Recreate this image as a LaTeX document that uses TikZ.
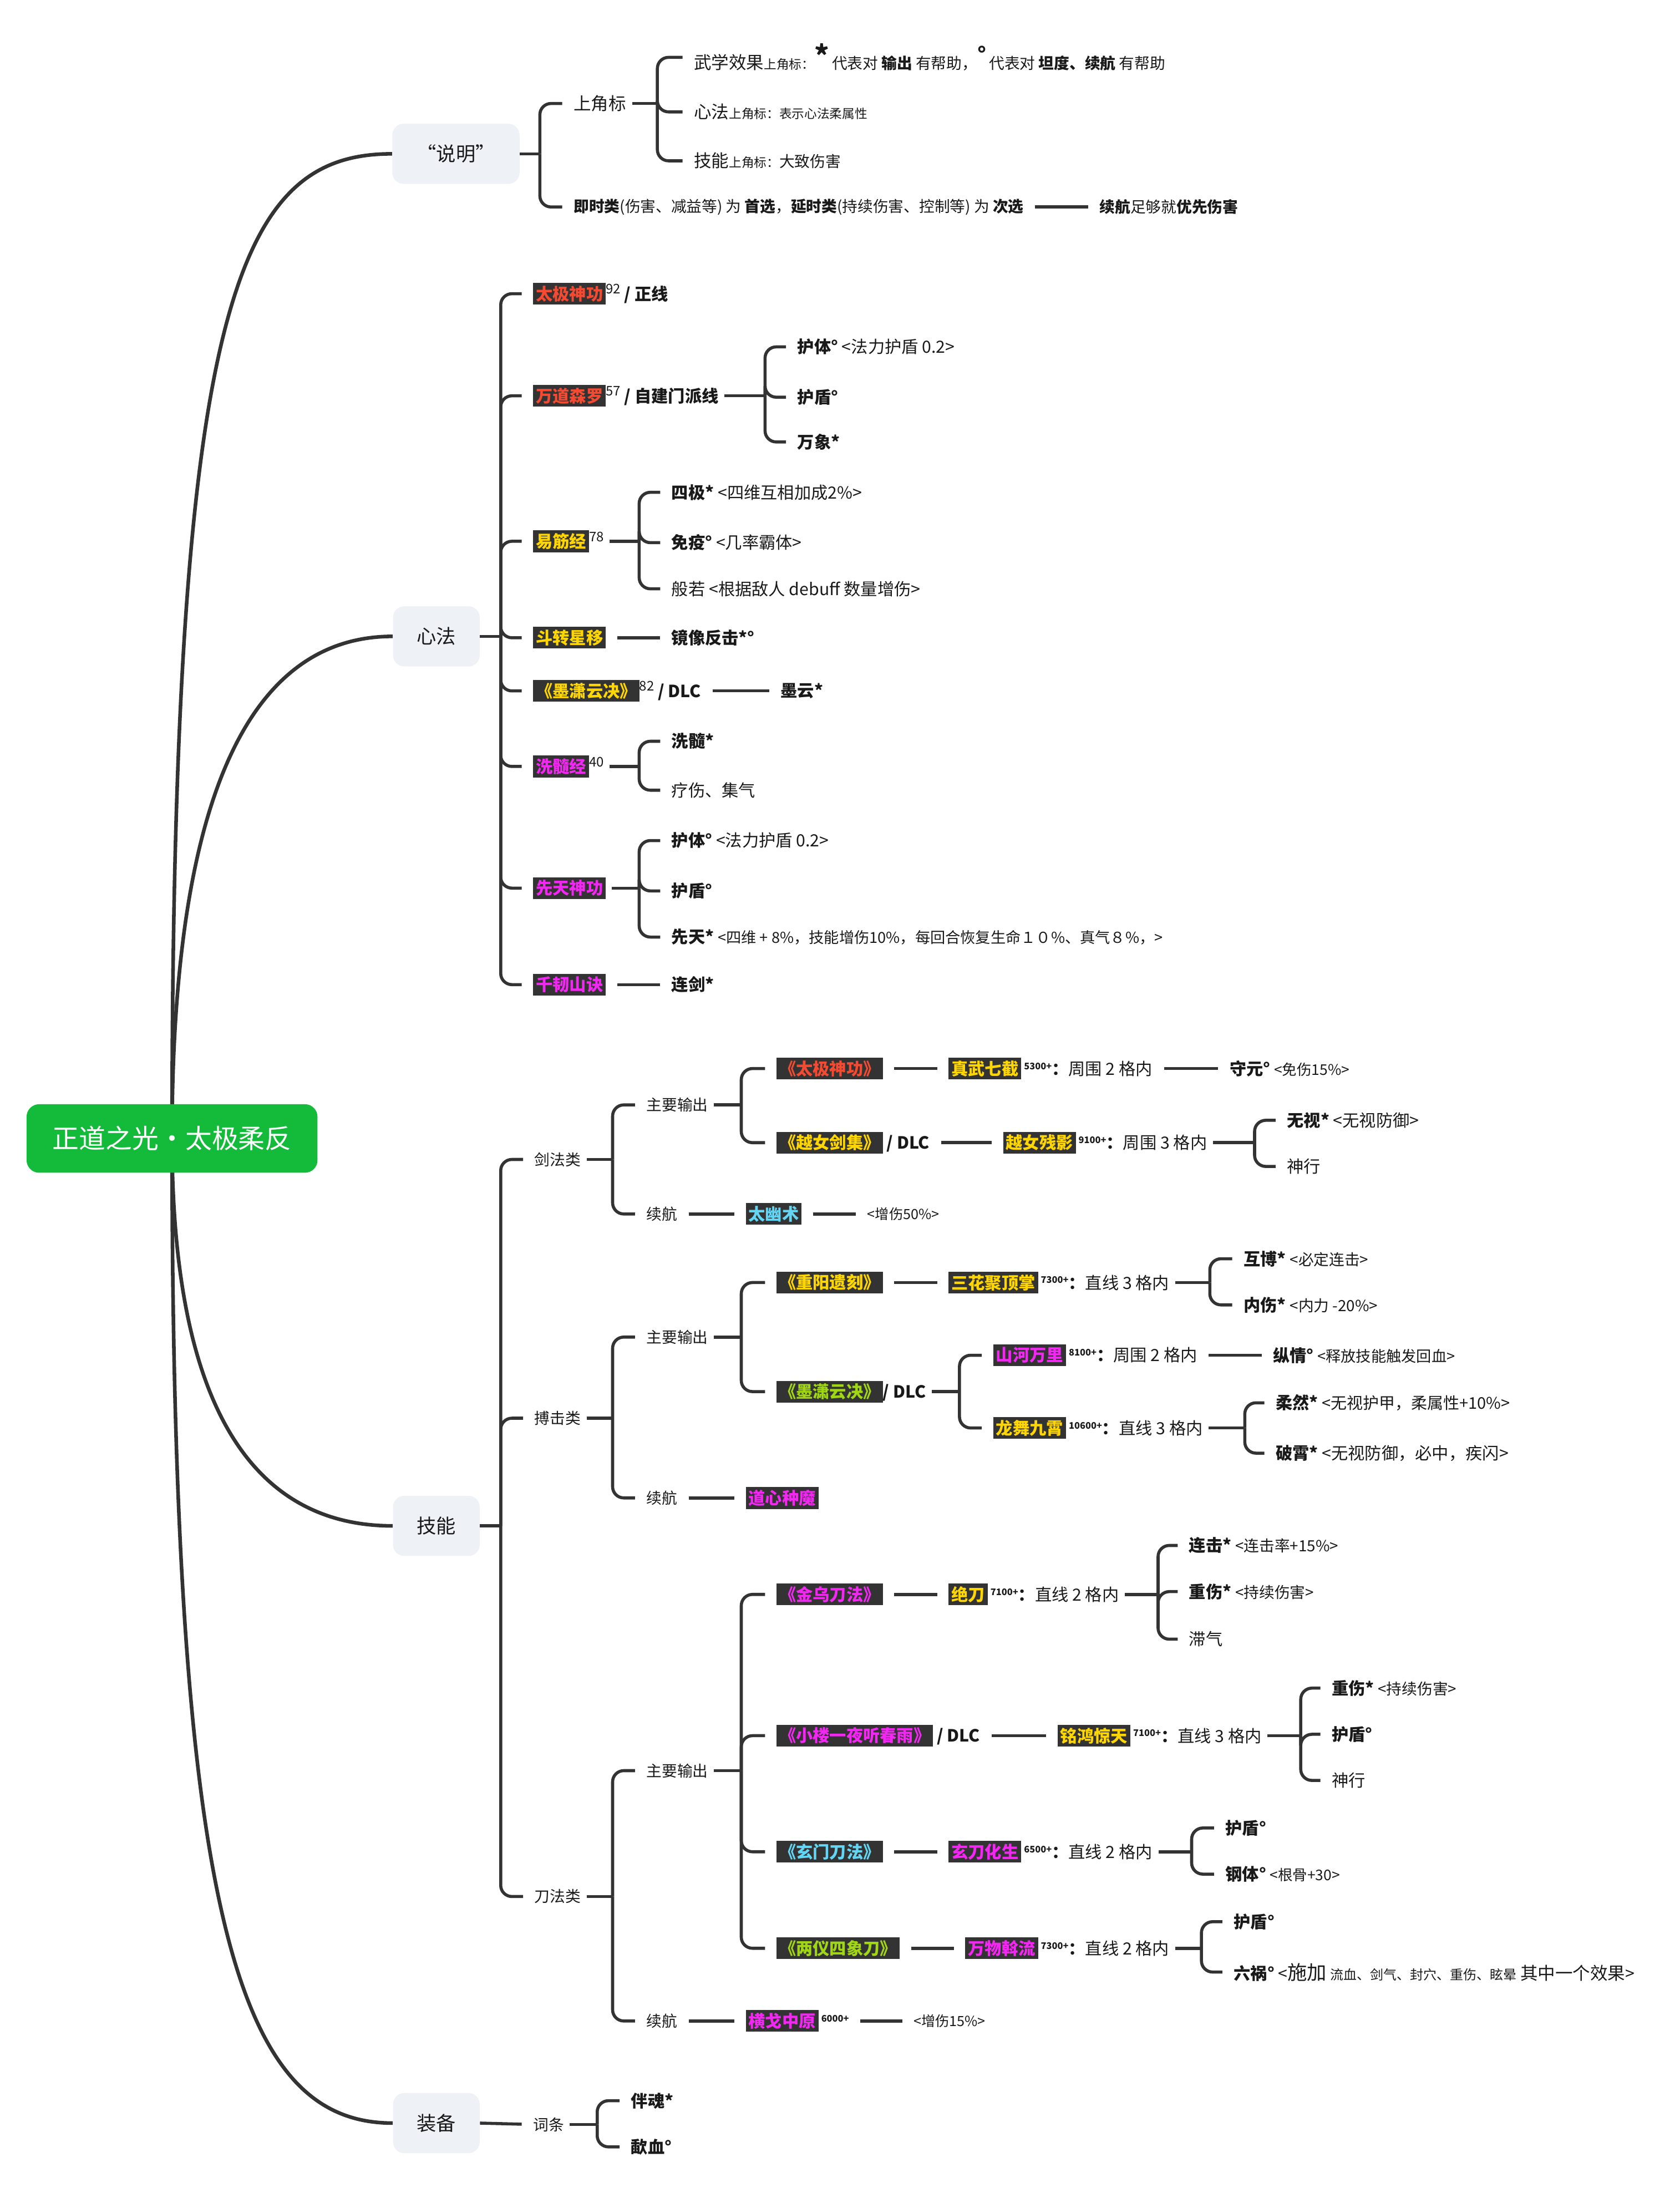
\documentclass[tikz,border=0pt]{standalone}
\usepackage{fontspec}
\setmainfont{Noto Sans CJK SC}
\usetikzlibrary{calc}
\definecolor{rootgreen}{RGB}{20,187,58}
\definecolor{topicgray}{RGB}{238,241,245}
\definecolor{linegray}{RGB}{51,51,51}
\definecolor{hlback}{RGB}{51,51,51}
\definecolor{hlred}{RGB}{245,74,50}
\definecolor{hlyellow}{RGB}{255,214,0}
\definecolor{hlpink}{RGB}{242,40,242}
\definecolor{hlcyan}{RGB}{100,214,245}
\definecolor{hlgreen}{RGB}{160,214,20}
\definecolor{textdark}{RGB}{25,25,25}
\newcommand{\fsz}[1]{\fontsize{#1}{#1}\selectfont}
\newcommand{\hlbox}[2]{{\setlength{\fboxsep}{2pt}\colorbox{hlback}{\textcolor{#1}{\bfseries #2}}}}
\newcommand{\pw}[1]{\,\raisebox{4pt}{\fontsize{6.5}{7}\selectfont\bfseries #1}}
\newcommand{\lv}[1]{\raisebox{4.5pt}{\fsz{9.5}#1}}
\pgfdeclarelayer{bg}
\pgfsetlayers{bg,main}
\tikzset{
  trunk/.style={line width=2.6pt, draw=linegray},
  stub/.style={line width=2.2pt, draw=linegray, shorten <=4pt},
  br/.style={line width=2.2pt, draw=linegray, rounded corners=8pt, shorten >=8pt},
  ln/.style={line width=2.2pt, draw=linegray, shorten <=8pt, shorten >=8pt},
  rootbox/.style={fill=rootgreen, text=white, rounded corners=9pt, minimum width=208pt, minimum height=49pt, font=\fsz{19}},
  topic/.style={fill=topicgray, text=textdark, rounded corners=8pt, minimum width=62pt, minimum height=43pt, font=\fsz{14}},
  item/.style={anchor=west, inner sep=0pt, text=textdark, font=\fsz{12}},
  kind/.style={item, font=\fsz{11}},
  leaf/.style={item, font=\fsz{12}}
}
\begin{document}
\begin{tikzpicture}[x=1pt,y=-1pt]
  \useasboundingbox (0,0) rectangle (1201,1568);

  % root and first level
  \node[rootbox] (root) at (123,814) {正道之光·太极柔反};
  \node[topic, minimum width=91pt] (sm) at (326,110) {“说明”};
  \node[topic] (xf) at (312,455) {心法};
  \node[topic] (jn) at (312,1091) {技能};
  \node[topic] (zb) at (312,1518) {装备};

  \begin{pgfonlayer}{bg}
    \draw[trunk] (root.center) .. controls +(0,-600) and +(-110,0) .. (sm.west);
    \draw[trunk] (root.center) .. controls +(0,-260) and +(-95,0) .. (xf.west);
    \draw[trunk] (root.center) .. controls +(0,200) and +(-95,0) .. (jn.west);
    \draw[trunk] (root.center) .. controls +(0,560) and +(-110,0) .. (zb.west);
  \end{pgfonlayer}

  % "说明"
  \coordinate (smj) at (386,110);
  \node[item, font=\fsz{12.5}] (sjb) at (410,74) {上角标};
  \node[item, font=\fsz{11}] (jsl) at (410,148) {\textbf{即时类}(伤害、减益等) 为 \textbf{首选}，\textbf{延时类}(持续伤害、控制等) 为 \textbf{次选}};
  \node[item, font=\fsz{11}] (yxsh) at (786,148) {\textbf{续航}足够就\textbf{优先伤害}};
  \draw[stub, shorten <=0pt] (sm.east) -- (smj);
  \draw[br] (smj) |- (sjb.west);
  \draw[br] (smj) |- (jsl.west);
  \draw[ln] (jsl.east) -- (yxsh.west);

  \coordinate (sjbj) at (470,74);
  \node[item, font=\fsz{12.5}] (wxxg) at (496,41) {武学效果{\fsz{9}上角标：}\raisebox{2pt}{\fsz{20}\textbf{*}}\,{\fsz{11}代表对 \textbf{输出} 有帮助，}\raisebox{5pt}{\fsz{15}\textbf{°}}\,{\fsz{11}代表对 \textbf{坦度、续航} 有帮助}};
  \node[item, font=\fsz{12.5}] (xfsj) at (496,80) {心法{\fsz{9}上角标：表示心法柔属性}};
  \node[item, font=\fsz{12.5}] (jnsj) at (496,115) {技能{\fsz{9}上角标：}{\fsz{11}大致伤害}};
  \draw[stub] (sjb.east) -- (sjbj);
  \foreach \c in {wxxg,xfsj,jnsj}
    \draw[br] (sjbj) |- (\c.west);

  % 心法
  \coordinate (xfj) at (358,455);
  \draw[stub, shorten <=0pt] (xf.east) -- (xfj);
  \node[item] (tjsg) at (381,210) {\hlbox{hlred}{太极神功}\lv{92} \textbf{/ 正线}};
  \node[item] (wdsl) at (381,283) {\hlbox{hlred}{万道森罗}\lv{57} \textbf{/ 自建门派线}};
  \node[item] (yjj) at (381,387) {\hlbox{hlyellow}{易筋经}\lv{78}};
  \node[item] (dzxy) at (381,456) {\hlbox{hlyellow}{斗转星移}};
  \node[item] (mxyj) at (381,494) {\hlbox{hlyellow}{《墨潇云决》}\lv{82} \textbf{/ DLC}};
  \node[item] (xsj) at (381,548) {\hlbox{hlpink}{洗髓经}\lv{40}};
  \node[item] (xtsg) at (381,635) {\hlbox{hlpink}{先天神功}};
  \node[item] (qrsj) at (381,704) {\hlbox{hlpink}{千韧山诀}};
  \foreach \c in {tjsg,wdsl,yjj,dzxy,mxyj,xsj,xtsg,qrsj}
    \draw[br] (xfj) |- (\c.west);

  \coordinate (wdslj) at (547,283);
  \node[leaf] (wdht) at (570,248) {\textbf{护体°} <法力护盾 0.2>};
  \node[leaf] (wdhd) at (570,284) {\textbf{护盾°}};
  \node[leaf] (wdwx) at (570,316) {\textbf{万象*}};
  \draw[stub] (wdsl.east) -- (wdslj);
  \foreach \c in {wdht,wdhd,wdwx}
    \draw[br] (wdslj) |- (\c.west);

  \coordinate (yjjj) at (457,387);
  \node[leaf] (yjsj) at (480,352) {\textbf{四极*} <四维互相加成2\%>};
  \node[leaf] (yjmy) at (480,388) {\textbf{免疫°} <几率霸体>};
  \node[leaf] (yjbr) at (480,421) {般若 <根据敌人 debuff 数量增伤>};
  \draw[stub] (yjj.east) -- (yjjj);
  \foreach \c in {yjsj,yjmy,yjbr}
    \draw[br] (yjjj) |- (\c.west);

  \node[leaf] (jxfj) at (480,456) {\textbf{镜像反击*°}};
  \draw[ln] (dzxy.east) -- (jxfj.west);
  \node[leaf] (myun) at (558,494) {\textbf{墨云*}};
  \draw[ln] (mxyj.east) -- (myun.west);

  \coordinate (xsjj) at (457,548);
  \node[leaf] (xsxs) at (480,530) {\textbf{洗髓*}};
  \node[leaf] (xsls) at (480,565) {疗伤、集气};
  \draw[stub] (xsj.east) -- (xsjj);
  \foreach \c in {xsxs,xsls}
    \draw[br] (xsjj) |- (\c.west);

  \coordinate (xtsgj) at (457,635);
  \node[leaf] (xtht) at (480,601) {\textbf{护体°} <法力护盾 0.2>};
  \node[leaf] (xthd) at (480,637) {\textbf{护盾°}};
  \node[leaf] (xtxt) at (480,670) {\textbf{先天*} {\fsz{10.8}<四维 + 8\%，技能增伤10\%，每回合恢复生命１０\%、真气８\%，>}};
  \draw[stub] (xtsg.east) -- (xtsgj);
  \foreach \c in {xtht,xthd,xtxt}
    \draw[br] (xtsgj) |- (\c.west);

  \node[leaf] (ljian) at (480,704) {\textbf{连剑*}};
  \draw[ln] (qrsj.east) -- (ljian.west);

  % 技能
  \coordinate (jnj) at (358,1091);
  \draw[stub, shorten <=0pt] (jn.east) -- (jnj);
  \node[kind] (jfl) at (382,829) {剑法类};
  \node[kind] (bjl) at (382,1014) {搏击类};
  \node[kind] (dfl) at (382,1356) {刀法类};
  \foreach \c in {jfl,bjl,dfl}
    \draw[br] (jnj) |- (\c.west);

  % 剑法类
  \coordinate (jflj) at (438,829);
  \node[kind] (jfzy) at (462,790) {主要输出};
  \node[kind] (jfxh) at (462,868) {续航};
  \draw[stub] (jfl.east) -- (jflj);
  \foreach \c in {jfzy,jfxh}
    \draw[br] (jflj) |- (\c.west);

  \coordinate (jfzyj) at (530,790);
  \node[item] (jtjsg) at (555,764) {\hlbox{hlred}{《太极神功》}};
  \node[item] (yvjj) at (555,817) {\hlbox{hlyellow}{《越女剑集》} \textbf{/ DLC}};
  \draw[stub] (jfzy.east) -- (jfzyj);
  \foreach \c in {jtjsg,yvjj}
    \draw[br] (jfzyj) |- (\c.west);

  \node[item] (zwqj) at (678,764) {\hlbox{hlyellow}{真武七截}\pw{5300+}\textbf{：}周围 2 格内};
  \node[leaf] (shyu) at (879,764) {\textbf{守元°} {\fsz{10.5}<免伤15\%>}};
  \draw[ln] (jtjsg.east) -- (zwqj.west);
  \draw[ln] (zwqj.east) -- (shyu.west);

  \node[item] (yvcy) at (717,817) {\hlbox{hlyellow}{越女残影}\pw{9100+}\textbf{：}周围 3 格内};
  \draw[ln] (yvjj.east) -- (yvcy.west);
  \coordinate (yvcyj) at (897,817);
  \node[leaf] (wush) at (920,801) {\textbf{无视*} <无视防御>};
  \node[leaf] (shx1) at (920,834) {神行};
  \draw[stub] (yvcy.east) -- (yvcyj);
  \foreach \c in {wush,shx1}
    \draw[br] (yvcyj) |- (\c.west);

  \node[item] (tysh) at (533,868) {\hlbox{hlcyan}{太幽术}};
  \node[item, font=\fsz{10}] (zs50) at (620,868) {<增伤50\%>};
  \draw[ln] (jfxh.east) -- (tysh.west);
  \draw[ln] (tysh.east) -- (zs50.west);

  % 搏击类
  \coordinate (bjlj) at (438,1014);
  \node[kind] (bjzy) at (462,956) {主要输出};
  \node[kind] (bjxh) at (462,1071) {续航};
  \draw[stub] (bjl.east) -- (bjlj);
  \foreach \c in {bjzy,bjxh}
    \draw[br] (bjlj) |- (\c.west);

  \coordinate (bjzyj) at (530,956);
  \node[item] (cyyk) at (555,917) {\hlbox{hlyellow}{《重阳遗刻》}};
  \node[item] (bmxyj) at (555,995) {\hlbox{hlgreen}{《墨潇云决》}\textbf{/ DLC}};
  \draw[stub] (bjzy.east) -- (bjzyj);
  \foreach \c in {cyyk,bmxyj}
    \draw[br] (bjzyj) |- (\c.west);

  \node[item] (shjd) at (678,917) {\hlbox{hlyellow}{三花聚顶掌}\pw{7300+}\textbf{：}直线 3 格内};
  \draw[ln] (cyyk.east) -- (shjd.west);
  \coordinate (shjdj) at (865,917);
  \node[leaf] (hubo) at (889,900) {\textbf{互博*} {\fsz{11}<必定连击>}};
  \node[leaf] (nesh) at (889,933) {\textbf{内伤*} {\fsz{11}<内力 -20\%>}};
  \draw[stub] (shjd.east) -- (shjdj);
  \foreach \c in {hubo,nesh}
    \draw[br] (shjdj) |- (\c.west);

  \coordinate (bmxyjj) at (686,995);
  \node[item] (shwl) at (710,969) {\hlbox{hlpink}{山河万里}\pw{8100+}\textbf{：}周围 2 格内};
  \node[item] (lwjx) at (710,1021) {\hlbox{hlyellow}{龙舞九霄}\pw{10600+}\textbf{：}直线 3 格内};
  \draw[stub] (bmxyj.east) -- (bmxyjj);
  \foreach \c in {shwl,lwjx}
    \draw[br] (bmxyjj) |- (\c.west);

  \node[leaf] (zong) at (910,969) {\textbf{纵情°} {\fsz{10.8}<释放技能触发回血>}};
  \draw[ln] (shwl.east) -- (zong.west);
  \coordinate (lwjxj) at (890,1021);
  \node[leaf] (rora) at (912,1003) {\textbf{柔然*} {\fsz{11.5}<无视护甲，柔属性+10\%>}};
  \node[leaf] (poxi) at (912,1039) {\textbf{破霄*} <无视防御，必中，疾闪>};
  \draw[stub] (lwjx.east) -- (lwjxj);
  \foreach \c in {rora,poxi}
    \draw[br] (lwjxj) |- (\c.west);

  \node[item] (dxzm) at (533,1071) {\hlbox{hlpink}{道心种魔}};
  \draw[ln] (bjxh.east) -- (dxzm.west);

  % 刀法类
  \coordinate (dflj) at (438,1356);
  \node[kind] (dfzy) at (462,1266) {主要输出};
  \node[kind] (dfxh) at (462,1445) {续航};
  \draw[stub] (dfl.east) -- (dflj);
  \foreach \c in {dfzy,dfxh}
    \draw[br] (dflj) |- (\c.west);

  \coordinate (dfzyj) at (530,1266);
  \node[item] (jwdf) at (555,1140) {\hlbox{hlpink}{《金乌刀法》}};
  \node[item] (xlyy) at (555,1241) {\hlbox{hlpink}{《小楼一夜听春雨》} \textbf{/ DLC}};
  \node[item] (xmdf) at (555,1324) {\hlbox{hlcyan}{《玄门刀法》}};
  \node[item] (lysx) at (555,1393) {\hlbox{hlgreen}{《两仪四象刀》}};
  \draw[stub] (dfzy.east) -- (dfzyj);
  \foreach \c in {jwdf,xlyy,xmdf,lysx}
    \draw[br] (dfzyj) |- (\c.west);

  \node[item] (jdao) at (678,1140) {\hlbox{hlyellow}{绝刀}\pw{7100+}\textbf{：}直线 2 格内};
  \draw[ln] (jwdf.east) -- (jdao.west);
  \coordinate (jdaoj) at (828,1140);
  \node[leaf] (ljji) at (850,1105) {\textbf{连击*} {\fsz{11}<连击率+15\%>}};
  \node[leaf] (zsh1) at (850,1138) {\textbf{重伤*} {\fsz{11}<持续伤害>}};
  \node[leaf] (zhqi) at (850,1172) {滞气};
  \draw[stub] (jdao.east) -- (jdaoj);
  \foreach \c in {ljji,zsh1,zhqi}
    \draw[br] (jdaoj) |- (\c.west);

  \node[item] (mhjt) at (756,1241) {\hlbox{hlyellow}{铭鸿惊天}\pw{7100+}\textbf{：}直线 3 格内};
  \draw[ln] (xlyy.east) -- (mhjt.west);
  \coordinate (mhjtj) at (930,1241);
  \node[leaf] (zsh2) at (952,1207) {\textbf{重伤*} {\fsz{11}<持续伤害>}};
  \node[leaf] (hdun) at (952,1240) {\textbf{护盾°}};
  \node[leaf] (shx2) at (952,1273) {神行};
  \draw[stub] (mhjt.east) -- (mhjtj);
  \foreach \c in {zsh2,hdun,shx2}
    \draw[br] (mhjtj) |- (\c.west);

  \node[item] (xdhs) at (678,1324) {\hlbox{hlpink}{玄刀化生}\pw{6500+}\textbf{：}直线 2 格内};
  \draw[ln] (xmdf.east) -- (xdhs.west);
  \coordinate (xdhsj) at (852,1324);
  \node[leaf] (hdxm) at (876,1307) {\textbf{护盾°}};
  \node[leaf] (gtxm) at (876,1340) {\textbf{钢体°} {\fsz{10.5}<根骨+30>}};
  \draw[stub] (xdhs.east) -- (xdhsj);
  \foreach \c in {hdxm,gtxm}
    \draw[br] (xdhsj) |- (\c.west);

  \node[item] (wwwl) at (690,1393) {\hlbox{hlpink}{万物斡流}\pw{7300+}\textbf{：}直线 2 格内};
  \draw[ln] (lysx.east) -- (wwwl.west);
  \coordinate (wwwlj) at (859,1393);
  \node[leaf] (hdly) at (882,1374) {\textbf{护盾°}};
  \node[leaf] (lhuo) at (882,1410) {\textbf{六祸°} <{\fsz{14}施加} {\fsz{9.5}流血、剑气、封穴、重伤、眩晕} {\fsz{12.5}其中一个效果}>};
  \draw[stub] (wwwl.east) -- (wwwlj);
  \foreach \c in {hdly,lhuo}
    \draw[br] (wwwlj) |- (\c.west);

  \node[item] (hgzy) at (533,1445) {\hlbox{hlpink}{横戈中原}\pw{6000+}};
  \node[item, font=\fsz{10}] (zs15) at (653,1445) {<增伤15\%>};
  \draw[ln] (dfxh.east) -- (hgzy.west);
  \draw[ln] (hgzy.east) -- (zs15.west);

  % 装备
  \node[kind] (ctiao) at (381,1519) {词条};
  \draw[ln, shorten <=0pt] (zb.east) -- (ctiao.west);
  \coordinate (ctiaoj) at (427,1519);
  \node[leaf] (bhun) at (451,1502) {\textbf{伴魂*}};
  \node[leaf] (shxue) at (451,1535) {\textbf{歃血°}};
  \draw[stub] (ctiao.east) -- (ctiaoj);
  \foreach \c in {bhun,shxue}
    \draw[br] (ctiaoj) |- (\c.west);
\end{tikzpicture}
\end{document}
